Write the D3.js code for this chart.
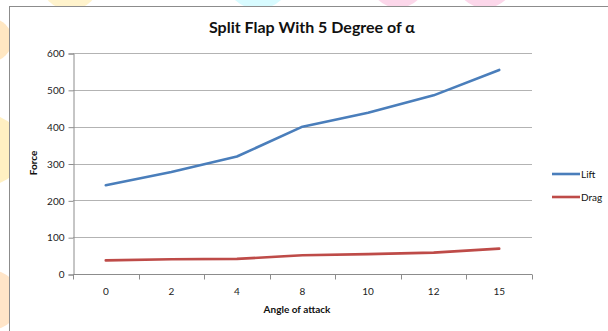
<!DOCTYPE html>
<html>
<head>
<meta charset="utf-8">
<script src="https://cdn.jsdelivr.net/npm/d3@7"></script>
<style>
  body { margin: 0; background: #fff; }
  svg { display: block; font-family: Lato, "Open Sans", sans-serif; }
</style>
</head>
<body>
<div id="chart"></div>
<script>
// Datos
const angles = ["0", "2", "4", "8", "10", "12", "15"];
const lift = [241, 277, 319, 400, 438, 485, 554];
const drag = [37, 40, 41, 51, 54, 58, 69];
const yTicks = [0, 100, 200, 300, 400, 500, 600];
const seriesNames = ["Lift", "Drag"];
const seriesColors = ["#4a7ebb", "#be4b48"];

const width = 608;
const height = 331;

const svg = d3.select("#chart")
  .append("svg")
  .attr("width", width)
  .attr("height", height);

// manchas suaves del fondo (marca de agua)
const blobs = [
  { x: 70, y: -20, r: 30, c: "#fff3cc" },
  { x: 258, y: -25, r: 34, c: "#d8fbff" },
  { x: 398, y: -20, r: 28, c: "#fcd7ea" },
  { x: 485, y: -22, r: 30, c: "#fcd7ea" },
  { x: -10, y: 40, r: 22, c: "#ffe7c2" },
  { x: -12, y: 150, r: 35, c: "#fff0c2" },
  { x: -10, y: 300, r: 30, c: "#ffe5c8" }
];
svg.selectAll("circle.blob")
  .data(blobs)
  .enter()
  .append("circle")
  .attr("class", "blob")
  .attr("cx", d => d.x)
  .attr("cy", d => d.y)
  .attr("r", d => d.r)
  .attr("fill", d => d.c);

// marco del gráfico
svg.append("rect")
  .attr("x", 9.5)
  .attr("y", 6.5)
  .attr("width", 620)
  .attr("height", 340)
  .attr("fill", "#fff")
  .attr("stroke", "#8c8c8c");

const plotLeft = 73, plotRight = 532, plotTop = 53, plotBottom = 274;

const xBand = d3.scaleBand()
  .domain(angles)
  .range([plotLeft, plotRight]);

const yScale = d3.scaleLinear()
  .domain([0, 600])
  .range([plotBottom, plotTop]);

// líneas de cuadrícula
svg.append("g")
  .selectAll("line")
  .data(yTicks.slice(1))
  .enter()
  .append("line")
  .attr("x1", plotLeft)
  .attr("x2", plotRight)
  .attr("y1", d => Math.round(yScale(d)) + 0.5)
  .attr("y2", d => Math.round(yScale(d)) + 0.5)
  .attr("stroke", "#b3b3b3");

// eje Y
const yAxis = svg.append("g")
  .attr("transform", `translate(${plotLeft + 0.5}, 0.5)`)
  .call(d3.axisLeft(yScale).tickValues(yTicks).tickSize(5).tickPadding(4));
yAxis.select(".domain").attr("stroke", "#8c8c8c");
yAxis.selectAll(".tick line").attr("stroke", "#8c8c8c");
yAxis.selectAll(".tick text").attr("font-size", 10).attr("fill", "#222")
  .attr("font-family", "Lato, sans-serif");

// eje X (marcas en los límites de categoría)
const xAxis = svg.append("g")
  .attr("transform", `translate(0, ${plotBottom + 0.5})`);
xAxis.append("line")
  .attr("x1", plotLeft).attr("x2", plotRight)
  .attr("stroke", "#8c8c8c");
const bounds = angles.map(a => xBand(a)).concat([plotRight]);
xAxis.selectAll("line.tick")
  .data(bounds)
  .enter()
  .append("line")
  .attr("class", "tick")
  .attr("x1", d => Math.round(d) + 0.5)
  .attr("x2", d => Math.round(d) + 0.5)
  .attr("y1", 0)
  .attr("y2", 5)
  .attr("stroke", "#8c8c8c");
xAxis.selectAll("text")
  .data(angles)
  .enter()
  .append("text")
  .attr("x", d => xBand(d) + xBand.bandwidth() / 2)
  .attr("y", 20)
  .attr("text-anchor", "middle")
  .attr("font-size", 10)
  .attr("fill", "#222")
  .text(d => d);

// series
const line = d3.line()
  .x((d, i) => xBand(angles[i]) + xBand.bandwidth() / 2)
  .y(d => yScale(d));

[lift, drag].forEach((s, k) => {
  svg.append("path")
    .datum(s)
    .attr("d", line)
    .attr("fill", "none")
    .attr("stroke", seriesColors[k])
    .attr("stroke-width", 2.6)
    .attr("stroke-linejoin", "round")
    .attr("stroke-linecap", "round");
});

// título
svg.append("text")
  .attr("x", 312)
  .attr("y", 33)
  .attr("text-anchor", "middle")
  .attr("font-size", 16)
  .attr("font-weight", "bold")
  .attr("fill", "#111")
  .text("Split Flap With 5 Degree of α");

// títulos de ejes
svg.append("text")
  .attr("x", 297)
  .attr("y", 313)
  .attr("text-anchor", "middle")
  .attr("font-size", 10)
  .attr("font-weight", "bold")
  .attr("fill", "#111")
  .text("Angle of attack");

svg.append("text")
  .attr("transform", "translate(37, 163) rotate(-90)")
  .attr("text-anchor", "middle")
  .attr("font-size", 10)
  .attr("font-weight", "bold")
  .attr("fill", "#111")
  .text("Force");

// leyenda
const legend = svg.append("g");
seriesNames.forEach((n, k) => {
  const y = 174 + k * 23;
  legend.append("line")
    .attr("x1", 552).attr("x2", 580)
    .attr("y1", y).attr("y2", y)
    .attr("stroke", seriesColors[k])
    .attr("stroke-width", 2.6);
  legend.append("text")
    .attr("x", 581)
    .attr("y", y + 3.5)
    .attr("font-size", 10)
    .attr("fill", "#111")
    .text(n);
});
</script>
</body>
</html>
